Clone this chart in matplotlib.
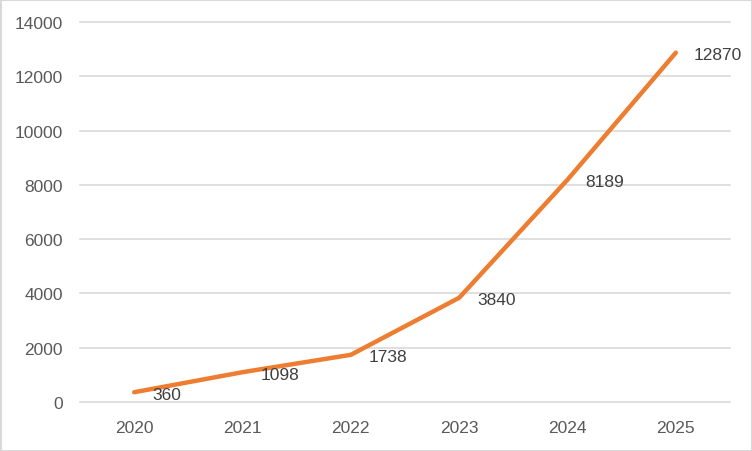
import matplotlib
matplotlib.use("Agg")
import matplotlib.pyplot as plt
from matplotlib.patches import Rectangle

years = ["2020", "2021", "2022", "2023", "2024", "2025"]
values = [360, 1098, 1738, 3840, 8189, 12870]
yticks = [0, 2000, 4000, 6000, 8000, 10000, 12000, 14000]

plt.rcParams['font.family'] = ['Liberation Sans', 'DejaVu Sans']

fig = plt.figure(figsize=(7.52, 4.52), dpi=100)
ax = fig.add_axes([80/752, 1-403/452, 650/752, 380/452])

x = list(range(len(years)))
ax.plot(x, values, color='#ED7D31', linewidth=3.2, solid_capstyle='round', zorder=3)
for xi, v in zip(x, values):
    ax.annotate(str(v), (xi, v), xytext=(13, -1.5), textcoords='offset points',
                ha='left', va='center', fontsize=12.5, color='#404040', zorder=4)

ax.set_xlim(-0.5, len(years) - 0.5)
ax.set_ylim(0, 14000)
ax.set_xticks(x)
ax.set_xticklabels(years)
ax.set_yticks(yticks)
ax.set_yticklabels([str(t) for t in yticks])
ax.tick_params(axis='both', length=0, labelsize=12.5, labelcolor='#595959')
ax.tick_params(axis='y', pad=12.5)
ax.tick_params(axis='x', pad=13)
ax.grid(axis='y', color='#D9D9D9', linewidth=1.2)
for gl in ax.get_ygridlines():
    gl.set_clip_on(False)
ax.set_axisbelow(True)
for s in ax.spines.values():
    s.set_visible(False)

fig.patches.append(Rectangle((0.5/752, 0.5/452), 1-1/752, 1-1/452, transform=fig.transFigure,
                             fill=False, edgecolor='#D9D9D9', linewidth=1.5))

fig.savefig('out.png', dpi=100)
